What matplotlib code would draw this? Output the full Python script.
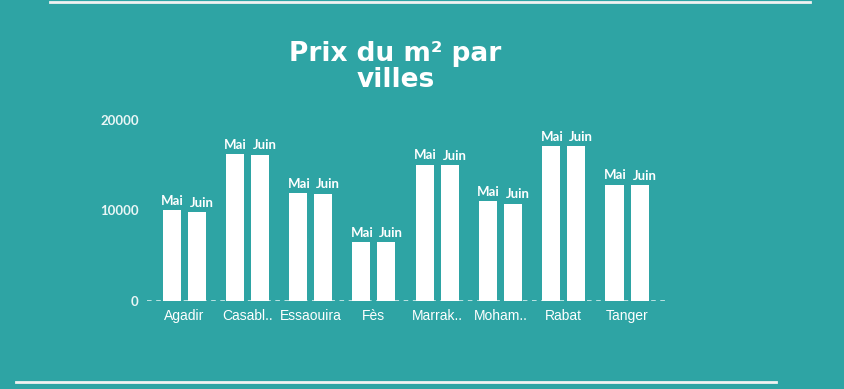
import matplotlib
matplotlib.use('Agg')
import matplotlib.pyplot as plt
import numpy as np

# données
villes = ['Agadir', 'Casabl..', 'Essaouira', 'Fès', 'Marrak..', 'Moham..', 'Rabat', 'Tanger']
prix_mai = [10000, 16200, 11900, 6450, 15000, 11000, 17050, 12800]
prix_juin = [9800, 16100, 11830, 6450, 14950, 10700, 17080, 12780]
mois = ['Mai', 'Juin']
y_ticks = [0, 10000, 20000]

BG = '#2EA4A4'
WHITE = '#FFFFFF'

fig = plt.figure(figsize=(8.45, 3.89), dpi=100, facecolor=BG)
ax = fig.add_axes([0.174, 0.2262, 0.613, 0.4666])
ax.set_facecolor(BG)

x = np.arange(len(villes))
off = 0.198
w = 0.285
b1 = ax.bar(x - off, prix_mai, w, color=WHITE, zorder=3)
b2 = ax.bar(x + off, prix_juin, w, color=WHITE, zorder=3)

# étiquettes Mai / Juin au-dessus des barres
for bars, lab, dx in zip([b1, b2], mois, [0.5, 3.5]):
    for b in bars:
        ax.annotate(lab, (b.get_x() + b.get_width() / 2, b.get_height()),
                    xytext=(dx, 2.5), textcoords='offset points',
                    ha='center', va='bottom', color=WHITE,
                    fontsize=9.5, family='Lato', fontweight='bold')

ax.set_xlim(-0.585, 7.6)
ax.set_ylim(0, 20000)
ax.set_yticks(y_ticks)
ax.set_yticklabels([str(v) for v in y_ticks], family='Lato', fontweight='bold',
                   fontsize=9.5, color='#EAF6F6')
ax.set_xticks(x)
ax.set_xticklabels(villes, family='Liberation Sans', fontsize=10, color=WHITE)
ax.tick_params(length=0, pad=6)
ax.tick_params(axis='y', pad=6)

for s in ax.spines.values():
    s.set_visible(False)
ax.axhline(0, color='#E4F4F4', linestyle=(0, (3, 3)), linewidth=1.1, zorder=2)

fig.text(0.468, 0.829, 'Prix du m² par\nvilles', ha='center', va='center',
         color=WHITE, fontsize=19, fontweight='heavy', family='DejaVu Sans',
         linespacing=1.0)

# lignes décoratives haut et bas
fig.add_artist(plt.Line2D([50 / 845, 810 / 845], [1 - 1.5 / 389] * 2,
                          color='#F2F2F2', linewidth=2))
fig.add_artist(plt.Line2D([16 / 845, 776 / 845], [1 - 382 / 389] * 2,
                          color='#F2F2F2', linewidth=2))

fig.savefig('out.png', dpi=100, facecolor=BG)
